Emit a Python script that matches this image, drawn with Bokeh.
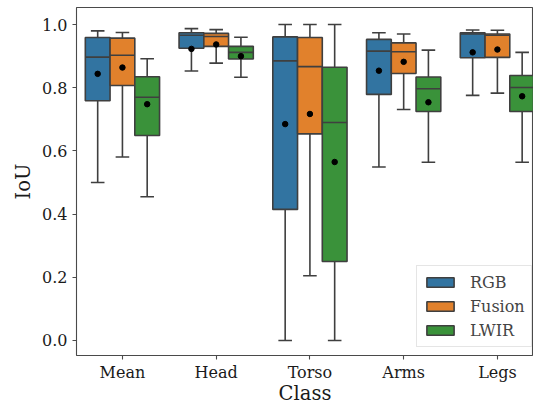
from bokeh.plotting import figure
from bokeh.models import FixedTicker, Legend, LegendItem, ColumnDataSource, Range1d
from bokeh.embed import file_html
from bokeh.resources import INLINE

categories = ["Mean", "Head", "Torso", "Arms", "Legs"]
series = ["RGB", "Fusion", "LWIR"]
colors = ["#3274a1", "#e1812c", "#3a923a"]

# per series: whisker low, q1, median, q3, whisker high, mean (one value per category)
rgb_low = [0.500, 0.853, 0.000, 0.549, 0.776]
rgb_q1 = [0.759, 0.925, 0.415, 0.779, 0.895]
rgb_med = [0.897, 0.966, 0.885, 0.916, 0.970]
rgb_q3 = [0.959, 0.974, 0.961, 0.953, 0.974]
rgb_high = [0.980, 0.987, 1.000, 0.974, 0.983]
rgb_mean = [0.844, 0.923, 0.685, 0.854, 0.912]

fusion_low = [0.581, 0.878, 0.205, 0.731, 0.783]
fusion_q1 = [0.807, 0.931, 0.654, 0.845, 0.896]
fusion_med = [0.903, 0.962, 0.867, 0.914, 0.966]
fusion_q3 = [0.957, 0.972, 0.959, 0.942, 0.970]
fusion_high = [0.975, 0.984, 1.000, 0.970, 0.982]
fusion_mean = [0.864, 0.937, 0.717, 0.882, 0.921]

lwir_low = [0.455, 0.833, 0.000, 0.564, 0.564]
lwir_q1 = [0.649, 0.891, 0.250, 0.725, 0.725]
lwir_med = [0.770, 0.912, 0.690, 0.797, 0.801]
lwir_q3 = [0.835, 0.931, 0.865, 0.834, 0.839]
lwir_high = [0.892, 0.960, 1.000, 0.919, 0.912]
lwir_mean = [0.748, 0.900, 0.565, 0.754, 0.773]

y_ticks = [0.0, 0.2, 0.4, 0.6, 0.8, 1.0]

stats = [
    (rgb_low, rgb_q1, rgb_med, rgb_q3, rgb_high, rgb_mean),
    (fusion_low, fusion_q1, fusion_med, fusion_q3, fusion_high, fusion_mean),
    (lwir_low, lwir_q1, lwir_med, lwir_q3, lwir_high, lwir_mean),
]

FONT = "DejaVu Serif"
LINE = "#3f3f3f"
BOX_W = 0.264
CAP_W = 0.145

p = figure(width=533, height=407, output_backend="svg", toolbar_location=None,
           x_range=Range1d(-0.49, 4.385), y_range=Range1d(-0.0475, 1.054),
           min_border_left=76, min_border_right=0, min_border_top=7, min_border_bottom=52)
p.grid.visible = False
p.background_fill_color = "white"
p.border_fill_color = "white"
p.outline_line_color = "#4a4a4a"
p.outline_line_width = 1.1

box_renderers = []
for s, (lo, q1, med, q3, hi, mn) in enumerate(stats):
    xs = [i + (s - 1) * BOX_W for i in range(len(categories))]
    src = ColumnDataSource(dict(
        x=xs, lo=lo, q1=q1, med=med, q3=q3, hi=hi, mn=mn,
        xl=[x - BOX_W / 2 for x in xs], xr=[x + BOX_W / 2 for x in xs],
        cl=[x - CAP_W / 2 for x in xs], cr=[x + CAP_W / 2 for x in xs],
    ))
    p.segment(x0="x", y0="q3", x1="x", y1="hi", source=src, line_color=LINE, line_width=1.6)
    p.segment(x0="x", y0="lo", x1="x", y1="q1", source=src, line_color=LINE, line_width=1.6)
    p.segment(x0="cl", y0="hi", x1="cr", y1="hi", source=src, line_color=LINE, line_width=1.6)
    p.segment(x0="cl", y0="lo", x1="cr", y1="lo", source=src, line_color=LINE, line_width=1.6)
    r = p.vbar(x="x", width=BOX_W, bottom="q1", top="q3", source=src,
               fill_color=colors[s], line_color=LINE, line_width=1.6)
    box_renderers.append(r)
    p.segment(x0="xl", y0="med", x1="xr", y1="med", source=src, line_color=LINE, line_width=1.6)
    p.scatter(x="x", y="mn", source=src, size=5.5, fill_color="black", line_color="black")

legend = Legend(items=[LegendItem(label=series[i], renderers=[box_renderers[i]]) for i in range(3)],
                location=(340, 8))
legend.label_text_font = FONT
legend.label_text_font_size = "16px"
legend.glyph_width = 34
legend.glyph_height = 12
legend.label_standoff = 13
legend.label_height = 20
legend.spacing = 4
legend.padding = 6
legend.margin = 0
legend.border_line_color = "#cccccc"
legend.border_line_width = 1
legend.background_fill_alpha = 0.85
p.add_layout(legend)

for ax in (p.xaxis[0], p.yaxis[0]):
    ax.axis_line_color = None
    ax.major_tick_line_color = "#4a4a4a"
    ax.major_tick_line_width = 1.1
    ax.major_tick_out = 4
    ax.major_tick_in = 0
    ax.minor_tick_line_color = None
    ax.major_label_text_font = FONT
    ax.major_label_text_font_size = "16px"
    ax.major_label_text_color = "#1a1a1a"
    ax.axis_label_text_font = FONT
    ax.axis_label_text_font_size = "19.5px"
    ax.axis_label_text_font_style = "normal"
    ax.axis_label_text_color = "#1a1a1a"

p.xaxis.ticker = FixedTicker(ticks=list(range(len(categories))))
p.xaxis.major_label_overrides = {i: c for i, c in enumerate(categories)}
p.xaxis.axis_label = "Class"
p.xaxis.major_label_standoff = 3
p.xaxis.axis_label_standoff = -3

p.yaxis.ticker = FixedTicker(ticks=y_ticks)
p.yaxis.major_label_overrides = {t: f"{t:.1f}" for t in y_ticks}
p.yaxis.axis_label = "IoU"
p.yaxis.major_label_standoff = 5
p.yaxis.axis_label_standoff = 4

open("out.html", "w").write(file_html(p, INLINE))
